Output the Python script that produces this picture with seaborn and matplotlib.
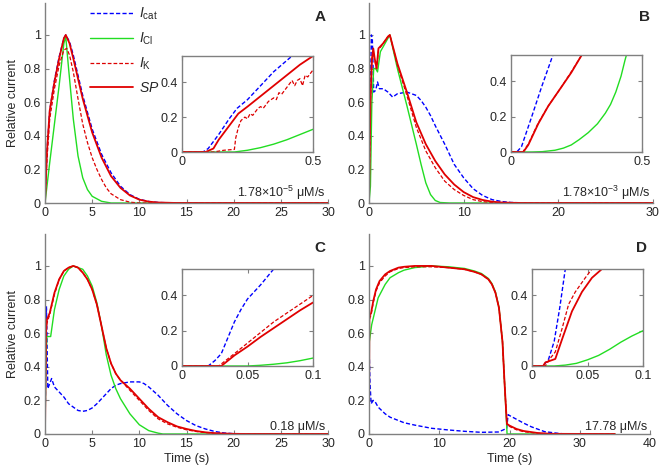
import matplotlib
matplotlib.use("Agg")
import matplotlib.pyplot as plt
import seaborn as sns

# ---------------- data ----------------
# panel A, 1.78e-5 uM/s
A_T_CAT = [0, 0.2, 0.5, 1, 1.5, 2, 2.2, 2.6, 3, 3.5, 4, 5, 6, 7, 8, 9, 10, 11, 12, 14, 30]
A_CAT = [0, 0.3, 0.55, 0.73, 0.87, 0.98, 1.0, 0.96, 0.88, 0.76, 0.64, 0.44, 0.29, 0.18, 0.1, 0.05, 0.022, 0.009, 0.003, 0, 0]
A_T_CL = [0, 0.5, 1, 1.5, 2, 2.2, 2.5, 3, 3.5, 4, 4.5, 5, 6, 7, 30]
A_CL = [0, 0.24, 0.47, 0.7, 0.95, 0.99, 0.8, 0.5, 0.28, 0.15, 0.08, 0.04, 0.01, 0, 0]
A_T_K = [0, 0.2, 0.5, 1, 1.5, 2, 2.3, 2.6, 3, 3.5, 4, 4.5, 5, 5.5, 6, 6.5, 7, 8, 9, 10, 30]
A_K = [0, 0.25, 0.5, 0.68, 0.82, 0.91, 0.92, 0.88, 0.78, 0.62, 0.47, 0.36, 0.27, 0.2, 0.14, 0.09, 0.055, 0.02, 0.005, 0, 0]
A_T_SP = [0, 0.2, 0.5, 1, 1.5, 2, 2.2, 2.6, 3, 3.5, 4, 5, 6, 7, 8, 9, 10, 11, 12, 14, 30]
A_SP = [0, 0.3, 0.55, 0.72, 0.86, 0.98, 1.0, 0.95, 0.86, 0.74, 0.62, 0.42, 0.27, 0.16, 0.09, 0.045, 0.02, 0.008, 0.003, 0, 0]

A_IN_T_CAT = [0, 0.08, 0.1, 0.14, 0.18, 0.21, 0.25, 0.3, 0.35, 0.42, 0.5]
A_IN_CAT = [0, 0, 0.02, 0.1, 0.19, 0.25, 0.3, 0.38, 0.46, 0.55, 0.65]
A_IN_T_CL = [0, 0.2, 0.25, 0.3, 0.35, 0.4, 0.45, 0.5]
A_IN_CL = [0, 0, 0.01, 0.025, 0.045, 0.07, 0.1, 0.13]
A_IN_T_K = [0, 0.12, 0.16, 0.2, 0.205, 0.215, 0.225, 0.24, 0.25, 0.26, 0.27, 0.29, 0.3, 0.31,
            0.33, 0.35, 0.36, 0.37, 0.38, 0.4, 0.41, 0.42, 0.43, 0.44, 0.45, 0.46, 0.47, 0.48, 0.5]
A_IN_K = [0, 0, 0.01, 0.015, 0.08, 0.14, 0.18, 0.2, 0.19, 0.22, 0.21, 0.25, 0.26, 0.25,
          0.29, 0.31, 0.3, 0.34, 0.33, 0.37, 0.39, 0.41, 0.38, 0.41, 0.42, 0.38, 0.44, 0.43, 0.47]
A_IN_T_SP = [0, 0.09, 0.12, 0.14, 0.17, 0.2, 0.215, 0.25, 0.3, 0.35, 0.4, 0.45, 0.5]
A_IN_SP = [0, 0, 0.02, 0.07, 0.13, 0.19, 0.22, 0.26, 0.32, 0.38, 0.44, 0.5, 0.55]

# panel B, 1.78e-3 uM/s
B_T_CAT = [0, 0.1, 0.25, 0.35, 0.5, 0.7, 0.9, 1.1, 1.5, 2, 2.5, 3, 4, 5, 5.5, 6, 6.5, 7, 8, 9, 10, 11, 12, 13, 14, 15, 17, 30]
B_CAT = [0, 0.5, 1.0, 0.98, 0.66, 0.67, 0.72, 0.68, 0.68, 0.66, 0.63, 0.65, 0.66, 0.64, 0.61, 0.57, 0.52, 0.46, 0.35, 0.23, 0.15, 0.085, 0.045, 0.02, 0.009, 0.003, 0, 0]
B_T_CL = [0, 0.15, 0.3, 0.5, 0.7, 0.9, 1.2, 1.8, 2.2, 3, 4, 5, 5.5, 6, 6.5, 7, 7.5, 8.5, 30]
B_CL = [0, 0.1, 0.6, 0.8, 0.8, 0.78, 0.9, 0.96, 1.0, 0.8, 0.58, 0.35, 0.23, 0.12, 0.05, 0.015, 0.003, 0, 0]
B_T_K = [0, 0.15, 0.3, 0.45, 0.6, 0.8, 1.0, 1.5, 2.0, 2.2, 3, 4, 5, 6, 7, 8, 9, 10, 11, 12, 13, 14, 16, 30]
B_K = [0, 0.6, 0.85, 0.9, 0.85, 0.8, 0.91, 0.95, 0.99, 1.0, 0.82, 0.64, 0.45, 0.31, 0.21, 0.13, 0.08, 0.045, 0.02, 0.008, 0.003, 0.001, 0, 0]
B_T_SP = [0, 0.15, 0.3, 0.45, 0.6, 0.8, 1.0, 1.5, 2.0, 2.2, 3, 4, 5, 6, 7, 8, 9, 10, 11, 12, 13, 14, 16, 30]
B_SP = [0, 0.6, 0.85, 0.92, 0.86, 0.8, 0.92, 0.95, 0.99, 1.0, 0.83, 0.66, 0.48, 0.35, 0.25, 0.17, 0.11, 0.065, 0.035, 0.018, 0.008, 0.003, 0, 0]

B_IN_T_CAT = [0, 0.022, 0.04, 0.079, 0.117, 0.16, 0.2]
B_IN_CAT = [0, 0, 0.03, 0.2, 0.37, 0.55, 0.72]
B_IN_T_CL = [0, 0.08, 0.12, 0.168, 0.2, 0.23, 0.26, 0.295, 0.33, 0.36, 0.38, 0.4, 0.42, 0.435, 0.45]
B_IN_CL = [0, 0, 0.002, 0.01, 0.022, 0.04, 0.07, 0.11, 0.16, 0.22, 0.27, 0.34, 0.43, 0.52, 0.6]
B_IN_T_K = [0, 0.045, 0.066, 0.104, 0.142, 0.193, 0.23, 0.27, 0.3]
B_IN_K = [0, 0, 0.045, 0.165, 0.26, 0.37, 0.455, 0.55, 0.62]
B_IN_T_SP = [0, 0.047, 0.066, 0.104, 0.142, 0.193, 0.23, 0.27, 0.3]
B_IN_SP = [0, 0, 0.04, 0.16, 0.26, 0.37, 0.45, 0.55, 0.62]

# panel C, 0.18 uM/s
C_T_CAT = [0, 0.1, 0.15, 0.3, 0.5, 0.7, 1, 1.5, 2, 2.5, 3, 3.5, 4, 4.5, 5, 5.5, 6, 6.5, 7, 7.5, 8,
           9, 10, 10.5, 11, 12, 13, 14, 15, 16, 17, 18, 19, 20, 30]
C_CAT = [0, 0.5, 0.76, 0.27, 0.3, 0.33, 0.28, 0.25, 0.22, 0.18, 0.16, 0.14, 0.135, 0.14, 0.155, 0.18, 0.21, 0.24, 0.27, 0.29, 0.3,
         0.31, 0.31, 0.3, 0.28, 0.23, 0.17, 0.12, 0.08, 0.05, 0.03, 0.015, 0.006, 0.002, 0]
C_T_CL = [0, 0.1, 0.2, 0.6, 1, 1.5, 2, 2.5, 3, 4, 4.5, 5, 5.5, 6, 6.5, 7, 7.5, 8, 9, 10, 11, 12, 12.5, 30]
C_CL = [0, 0.45, 0.58, 0.58, 0.74, 0.86, 0.94, 0.98, 1.0, 0.98, 0.94, 0.88, 0.78, 0.64, 0.47, 0.35, 0.27, 0.21, 0.12, 0.055, 0.02, 0.005, 0, 0]
C_T_K = [0, 0.1, 0.2, 0.5, 1, 1.5, 2, 2.5, 3, 3.5, 4, 4.5, 5, 5.5, 6, 6.5, 7, 7.5, 8, 9, 10, 11, 12, 13, 14, 15, 16, 17, 18, 20, 22, 30]
C_K = [0, 0.58, 0.66, 0.71, 0.83, 0.92, 0.97, 0.99, 1.0, 0.99, 0.96, 0.92, 0.86, 0.77, 0.64, 0.51, 0.42, 0.36, 0.32, 0.26, 0.2, 0.14, 0.09, 0.06, 0.04, 0.025, 0.015, 0.008, 0.004, 0.001, 0, 0]
C_T_SP = [0, 0.1, 0.2, 0.5, 1, 1.5, 2, 2.5, 3, 3.5, 4, 4.5, 5, 5.5, 6, 6.5, 7, 7.5, 8, 9, 10, 11, 12, 13, 14, 15, 16, 17, 18, 20, 22, 30]
C_SP = [0, 0.6, 0.68, 0.72, 0.84, 0.92, 0.97, 0.99, 1.0, 0.99, 0.96, 0.92, 0.86, 0.77, 0.64, 0.51, 0.42, 0.36, 0.32, 0.27, 0.21, 0.15, 0.1, 0.07, 0.045, 0.03, 0.018, 0.01, 0.005, 0.001, 0, 0]

C_IN_T_CAT = [0, 0.02, 0.025, 0.03, 0.035, 0.04, 0.045, 0.05, 0.06, 0.07, 0.08]
C_IN_CAT = [0, 0, 0.03, 0.07, 0.16, 0.25, 0.32, 0.38, 0.46, 0.55, 0.64]
C_IN_T_CL = [0, 0.05, 0.06, 0.07, 0.08, 0.09, 0.1]
C_IN_CL = [0, 0, 0.004, 0.01, 0.018, 0.03, 0.045]
C_IN_T_K = [0, 0.028, 0.04, 0.05, 0.06, 0.07, 0.08, 0.09, 0.1]
C_IN_K = [0, 0, 0.07, 0.13, 0.19, 0.25, 0.3, 0.35, 0.4]
C_IN_T_SP = [0, 0.03, 0.04, 0.05, 0.06, 0.07, 0.08, 0.09, 0.1]
C_IN_SP = [0, 0, 0.06, 0.11, 0.165, 0.215, 0.265, 0.315, 0.36]

# panel D, 17.78 uM/s
D_T_CAT = [0, 0.05, 0.15, 0.3, 0.6, 0.9, 1.3, 2.3, 3, 4.2, 5, 6.5, 8.9, 11.3, 13.6, 16, 18.4, 19.1, 19.6,
           19.8, 20, 21.2, 22, 23.1, 25, 26.9, 28, 35]
D_CAT = [0, 0.45, 0.3, 0.18, 0.2, 0.19, 0.16, 0.12, 0.1, 0.08, 0.067, 0.053, 0.034, 0.024, 0.016, 0.01, 0.012, 0.024, 0.034,
         0.115, 0.11, 0.083, 0.065, 0.043, 0.014, 0.004, 0, 0]
D_T_CL = [0, 0.05, 0.38, 1.3, 2.3, 3, 4.2, 5, 6.5, 8.9, 11.3, 13.6, 15, 16, 17, 17.5, 18, 18.5, 19, 19.3, 19.6, 19.65, 35]
D_CL = [0, 0.55, 0.65, 0.81, 0.89, 0.93, 0.96, 0.975, 0.99, 1.0, 0.995, 0.985, 0.97, 0.955, 0.925, 0.895, 0.845, 0.755, 0.55, 0.3, 0.05, 0, 0]
D_T_K = [0, 0.05, 0.3, 0.6, 1, 1.5, 2.3, 3, 4.2, 5, 6.5, 8.9, 11.3, 13.6, 15, 16, 17, 17.5, 18, 18.5, 19, 19.3, 19.6,
         19.65, 20, 21, 22, 24, 26, 35]
D_K = [0, 0.68, 0.71, 0.78, 0.85, 0.9, 0.94, 0.965, 0.985, 0.99, 0.995, 0.995, 0.99, 0.98, 0.965, 0.95, 0.92, 0.89, 0.84, 0.75, 0.55, 0.3, 0.08,
       0.055, 0.045, 0.025, 0.014, 0.004, 0.001, 0]
D_T_SP = [0, 0.05, 0.3, 0.6, 1, 1.5, 2.3, 3, 4.2, 5, 6.5, 8.9, 11.3, 13.6, 15, 16, 17, 17.5, 18, 18.5, 19, 19.3, 19.6,
          19.65, 20, 21, 22, 24, 26, 35]
D_SP = [0, 0.7, 0.72, 0.79, 0.86, 0.91, 0.95, 0.97, 0.99, 0.995, 1.0, 1.0, 0.99, 0.98, 0.965, 0.95, 0.92, 0.89, 0.84, 0.75, 0.55, 0.3, 0.08,
        0.06, 0.05, 0.03, 0.018, 0.006, 0.001, 0]

D_IN_T_CAT = [0, 0.01, 0.015, 0.02, 0.025, 0.03, 0.035]
D_IN_CAT = [0, 0, 0.04, 0.14, 0.33, 0.55, 0.75]
D_IN_T_CL = [0, 0.02, 0.03, 0.04, 0.05, 0.06, 0.07, 0.08, 0.09, 0.1]
D_IN_CL = [0, 0, 0.005, 0.015, 0.035, 0.06, 0.095, 0.135, 0.17, 0.2]
D_IN_T_K = [0, 0.012, 0.016, 0.021, 0.027, 0.033, 0.039, 0.048, 0.054, 0.06]
D_IN_K = [0, 0, 0.04, 0.08, 0.21, 0.35, 0.42, 0.5, 0.55, 0.6]
D_IN_T_SP = [0, 0.01, 0.012, 0.021, 0.027, 0.036, 0.045, 0.054, 0.063, 0.07]
D_IN_SP = [0, 0, 0.02, 0.04, 0.15, 0.31, 0.42, 0.5, 0.55, 0.6]

LEGEND_LABELS = [r"$I_{\rm cat}$", r"$I_{\rm Cl}$", r"$I_{\rm K}$", r"$SP$"]
RATE_LABELS = [r"1.78$\times$10$^{-5}$ μM/s", r"1.78$\times$10$^{-3}$ μM/s", "0.18 μM/s", "17.78 μM/s"]
PANEL_LETTERS = ["A", "B", "C", "D"]

# ---------------- style ----------------
sns.set_style("ticks")
plt.rcParams["font.family"] = ["Liberation Sans", "DejaVu Sans"]
plt.rcParams["mathtext.fontset"] = "custom"
plt.rcParams["mathtext.rm"] = "Liberation Sans"
plt.rcParams["mathtext.it"] = "Liberation Sans:italic"
plt.rcParams["mathtext.bf"] = "Liberation Sans:bold"
plt.rcParams["font.size"] = 9

GRAY = "#808080"
STYLES = {
    "cat": dict(color="#0000ff", linestyle=(0, (3, 1.6)), lw=1.0),
    "cl": dict(color="#22dd22", linestyle="-", lw=1.0),
    "k": dict(color="#dd0000", linestyle=(0, (3, 1.6)), lw=0.9),
    "sp": dict(color="#e00000", linestyle="-", lw=1.3),
}

W, H = 661, 474
fig = plt.figure(figsize=(W / 100, H / 100), dpi=100)


def px_axes(left, right, top, bottom):
    return fig.add_axes([left / W, 1 - bottom / H, (right - left) / W, (bottom - top) / H])


def draw_curves(ax, curves):
    for t, y, key in curves:
        sns.lineplot(x=t, y=y, ax=ax, estimator=None, sort=False, legend=False, **STYLES[key])
    ax.set_xlabel("")
    ax.set_ylabel("")


def style_main(ax, xmax, xticks):
    ax.set_xlim(0, xmax)
    ax.set_ylim(0, 1.19)
    ax.set_xticks(xticks)
    ax.set_yticks([0, 0.2, 0.4, 0.6, 0.8, 1])
    ax.set_yticklabels(["0", "0.2", "0.4", "0.6", "0.8", "1"])
    sns.despine(ax=ax)
    for s in ["left", "bottom"]:
        ax.spines[s].set_color(GRAY)
        ax.spines[s].set_linewidth(1.0)
    ax.tick_params(direction="in", length=3, color=GRAY, labelsize=9, pad=3)


def style_inset(ax, xmax, xticks, xlabels):
    ax.set_xlim(0, xmax)
    ax.set_ylim(0, 0.55)
    ax.set_xticks(xticks)
    ax.set_xticklabels(xlabels)
    ax.set_yticks([0, 0.2, 0.4])
    ax.set_yticklabels(["0", "0.2", "0.4"])
    for s in ax.spines.values():
        s.set_color(GRAY)
        s.set_linewidth(1.0)
        s.set_visible(True)
    ax.tick_params(direction="in", length=3, color=GRAY, labelsize=9, pad=3,
                   top=True, right=True)
    ax.set_facecolor("white")


# main axes positions (pixels)
main_boxes = [(45, 328, 3, 203), (369, 653, 3, 203), (45, 328, 234, 434), (369, 650, 234, 434)]
inset_boxes = [(182, 313, 56, 152), (511, 642, 55, 152), (182, 313, 269, 366), (532, 643, 269, 366)]

main_curves = [
    [(A_T_CAT, A_CAT, "cat"), (A_T_CL, A_CL, "cl"), (A_T_K, A_K, "k"), (A_T_SP, A_SP, "sp")],
    [(B_T_CAT, B_CAT, "cat"), (B_T_CL, B_CL, "cl"), (B_T_K, B_K, "k"), (B_T_SP, B_SP, "sp")],
    [(C_T_CAT, C_CAT, "cat"), (C_T_CL, C_CL, "cl"), (C_T_K, C_K, "k"), (C_T_SP, C_SP, "sp")],
    [(D_T_CAT, D_CAT, "cat"), (D_T_CL, D_CL, "cl"), (D_T_K, D_K, "k"), (D_T_SP, D_SP, "sp")],
]
inset_curves = [
    [(A_IN_T_CAT, A_IN_CAT, "cat"), (A_IN_T_CL, A_IN_CL, "cl"), (A_IN_T_K, A_IN_K, "k"), (A_IN_T_SP, A_IN_SP, "sp")],
    [(B_IN_T_CAT, B_IN_CAT, "cat"), (B_IN_T_CL, B_IN_CL, "cl"), (B_IN_T_K, B_IN_K, "k"), (B_IN_T_SP, B_IN_SP, "sp")],
    [(C_IN_T_CAT, C_IN_CAT, "cat"), (C_IN_T_CL, C_IN_CL, "cl"), (C_IN_T_K, C_IN_K, "k"), (C_IN_T_SP, C_IN_SP, "sp")],
    [(D_IN_T_CAT, D_IN_CAT, "cat"), (D_IN_T_CL, D_IN_CL, "cl"), (D_IN_T_K, D_IN_K, "k"), (D_IN_T_SP, D_IN_SP, "sp")],
]
xmaxes = [30, 30, 30, 40]
xticks_main = [range(0, 31, 5), range(0, 31, 10), range(0, 31, 5), range(0, 41, 10)]
inset_xmax = [0.5, 0.5, 0.1, 0.1]
inset_xticks = [[0, 0.5], [0, 0.5], [0, 0.05, 0.1], [0, 0.05, 0.1]]
inset_xlabels = [["0", "0.5"], ["0", "0.5"], ["0", "0.05", "0.1"], ["0", "0.05", "0.1"]]

for i in range(4):
    ax = px_axes(*main_boxes[i])
    draw_curves(ax, main_curves[i])
    style_main(ax, xmaxes[i], list(xticks_main[i]))
    ax.text(0.99, 0.93, PANEL_LETTERS[i], transform=ax.transAxes, ha="right", va="center",
            fontsize=11, fontweight="bold")
    ax.text(xmaxes[i] * 0.99, 0.008, RATE_LABELS[i], ha="right", va="bottom", fontsize=9)
    if i in (0, 2):
        ax.set_ylabel("Relative current", fontsize=9, labelpad=3)
    if i in (2, 3):
        ax.set_xlabel("Time (s)", fontsize=9, labelpad=2)
    if i == 0:
        ax.legend(ax.lines[:4], LEGEND_LABELS, loc="upper left", bbox_to_anchor=(0.135, 1.02),
                  frameon=False, handlelength=3.1, labelspacing=0.62, borderpad=0,
                  handletextpad=0.4, fontsize=10)

    ins = px_axes(*inset_boxes[i])
    draw_curves(ins, inset_curves[i])
    style_inset(ins, inset_xmax[i], inset_xticks[i], inset_xlabels[i])

fig.savefig("out.png", dpi=100)
